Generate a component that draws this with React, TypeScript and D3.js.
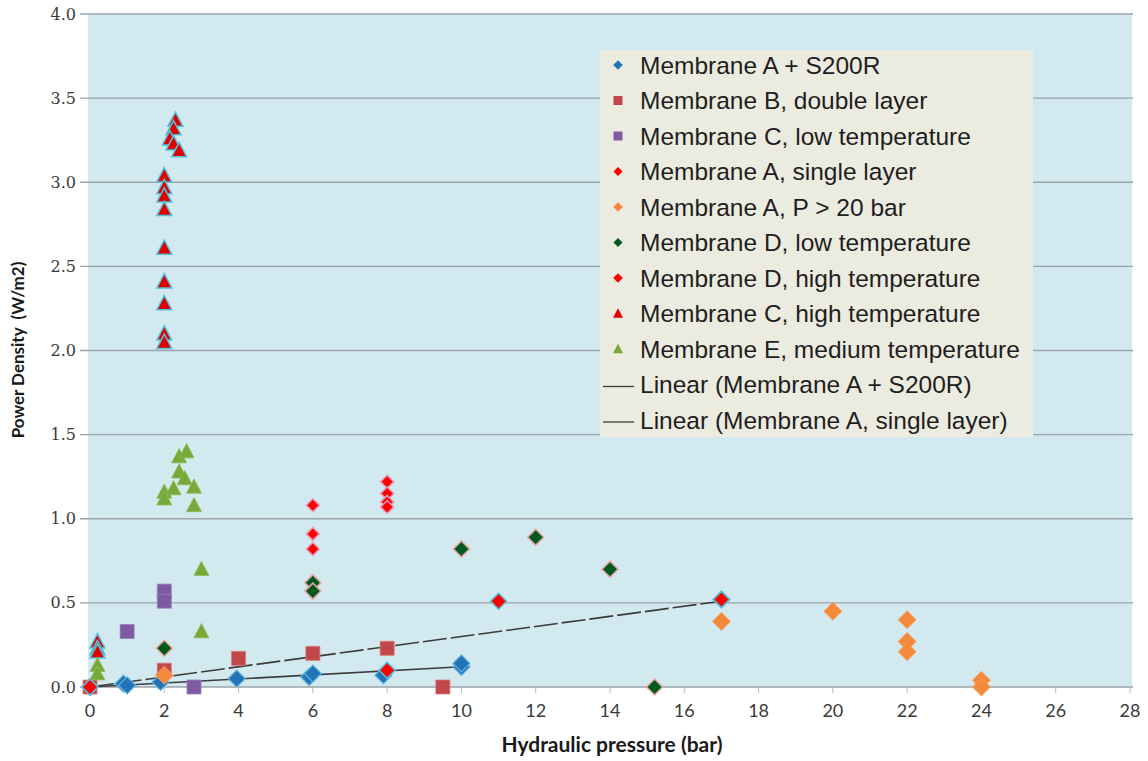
import React from 'react';
import * as d3 from 'd3';

// ---------- data ----------
const xTicks = [0, 2, 4, 6, 8, 10, 12, 14, 16, 18, 20, 22, 24, 26, 28];
const yTicks = [0, 0.5, 1.0, 1.5, 2.0, 2.5, 3.0, 3.5, 4.0];

const legendLabels = [
  'Membrane A + S200R',
  'Membrane B, double layer',
  'Membrane C, low temperature',
  'Membrane A, single layer',
  'Membrane A, P > 20 bar',
  'Membrane D, low temperature',
  'Membrane D, high temperature',
  'Membrane C, high temperature',
  'Membrane E, medium temperature',
  'Linear (Membrane A + S200R)',
  'Linear (Membrane A, single layer)',
];

const aS200rX = [0, 0.9, 1.0, 1.9, 3.95, 5.9, 6.0, 7.9, 10.0, 10.0, 17.0];
const aS200rY = [0.0, 0.02, 0.01, 0.03, 0.05, 0.06, 0.08, 0.07, 0.12, 0.14, 0.52];

const bDoubleX = [0, 2.0, 4.0, 6.0, 8.0, 9.5];
const bDoubleY = [0.0, 0.10, 0.17, 0.20, 0.23, 0.0];

const cLowX = [1.0, 2.0, 2.0, 2.8];
const cLowY = [0.33, 0.57, 0.51, 0.0];

const aSingleX = [0, 8.0, 11.0, 17.0];
const aSingleY = [0.0, 0.10, 0.51, 0.52];

const aP20X = [2.0, 17.0, 20.0, 22.0, 22.0, 22.0, 24.0, 24.0];
const aP20Y = [0.07, 0.39, 0.45, 0.40, 0.27, 0.21, 0.04, 0.0];

const dLowX = [2.0, 6.0, 6.0, 10.0, 12.0, 14.0, 15.2];
const dLowY = [0.23, 0.62, 0.57, 0.82, 0.89, 0.70, 0.0];

const dHighX = [6.0, 6.0, 6.0, 8.0, 8.0, 8.0, 8.0];
const dHighY = [1.08, 0.91, 0.82, 1.22, 1.15, 1.10, 1.07];

const cHighX = [0.2, 0.2, 0.2, 2.0, 2.0, 2.0, 2.0, 2.0, 2.0, 2.0, 2.0, 2.0, 2.3, 2.25, 2.15, 2.25, 2.4];
const cHighY = [0.27, 0.23, 0.21, 3.04, 2.97, 2.92, 2.84, 2.61, 2.41, 2.28, 2.10, 2.05, 3.37, 3.32, 3.26, 3.23, 3.19];

const eMedX = [0.2, 0.2, 2.0, 2.0, 2.25, 2.4, 2.4, 2.6, 2.55, 2.8, 2.8, 3.0, 3.0];
const eMedY = [0.13, 0.08, 1.16, 1.12, 1.18, 1.37, 1.28, 1.40, 1.24, 1.19, 1.08, 0.70, 0.33];

const trendS200rX = [0, 17];
const trendS200rY = [0.0, 0.51];
const trendSingleX = [0, 10];
const trendSingleY = [0.0, 0.12];

// ---------- shapes ----------
type Shape = 'diamond' | 'square' | 'triangle';
const shapePath = (shape: Shape, r: number) => {
  if (shape === 'diamond') return `M0,${-r}L${r},0L0,${r}L${-r},0Z`;
  if (shape === 'square') return `M${-r},${-r}H${r}V${r}H${-r}Z`;
  return `M0,${-r * 1.05}L${r},${r * 0.85}L${-r},${r * 0.85}Z`;
};

export default function App() {
  const W = 1148;
  const H = 761;
  const left = 90, right = 1130, top = 14, bottom = 687;
  const x = d3.scaleLinear().domain([0, 28]).range([left, right]);
  const y = d3.scaleLinear().domain([0, 4]).range([bottom, top]);

  const series = [
    { xs: aS200rX, ys: aS200rY, shape: 'diamond' as Shape, r: 8.5, fill: '#2473b6', stroke: '#5cb6df', sw: 1.2, lr: 4.8 },
    { xs: bDoubleX, ys: bDoubleY, shape: 'square' as Shape, r: 7, fill: '#c0474a', stroke: '#d9777a', sw: 0.8, lr: 4.5 },
    { xs: cLowX, ys: cLowY, shape: 'square' as Shape, r: 7, fill: '#7f5aa2', stroke: '#9b7fbb', sw: 0.8, lr: 4.5 },
    { xs: aSingleX, ys: aSingleY, shape: 'diamond' as Shape, r: 8, fill: '#ff0000', stroke: '#4fc3dc', sw: 1.5, lr: 4.5 },
    { xs: aP20X, ys: aP20Y, shape: 'diamond' as Shape, r: 9, fill: '#f5893a', stroke: '#f6a162', sw: 0.8, lr: 4.8 },
    { xs: dLowX, ys: dLowY, shape: 'diamond' as Shape, r: 8, fill: '#005a1e', stroke: '#e8a3a0', sw: 1.5, lr: 4.5 },
    { xs: dHighX, ys: dHighY, shape: 'diamond' as Shape, r: 6.5, fill: '#ff0000', stroke: '#e59ab8', sw: 1.5, lr: 4.8 },
    { xs: cHighX, ys: cHighY, shape: 'triangle' as Shape, r: 7.5, fill: '#e00000', stroke: '#4fc3dc', sw: 1.5, lr: 5 },
    { xs: eMedX, ys: eMedY, shape: 'triangle' as Shape, r: 7.5, fill: '#76a83a', stroke: '#8cbb50', sw: 0.8, lr: 5 },
  ];

  const line = d3.line<[number, number]>().x(d => x(d[0])).y(d => y(d[1]));
  const trend1 = line(trendS200rX.map((v, i) => [v, trendS200rY[i]] as [number, number])) || '';
  const trend2 = line(trendSingleX.map((v, i) => [v, trendSingleY[i]] as [number, number])) || '';

  const legX = 600, legY = 50, legW = 433, legH = 387;
  const rowY = (i: number) => 65 + i * 35.5;

  return (
    <svg width={W} height={H} style={{ position: 'absolute', left: 0, top: 0, background: '#fff' }}>
      <rect x={left - 2} y={top} width={right - left + 4} height={bottom - top} fill="#d3e9f0" />
      {yTicks.map(t => (
        <g key={'y' + t}>
          <line x1={80} x2={right + 3} y1={y(t)} y2={y(t)} stroke="#9aa5aa" strokeWidth={1.4} />
          <text x={76} y={y(t)} dy="0.35em" textAnchor="end" fontFamily="'DejaVu Serif', serif" fontSize={16} fill="#3a3a3a">
            {t.toFixed(1)}
          </text>
        </g>
      ))}
      {xTicks.map(t => (
        <g key={'x' + t}>
          <line x1={x(t)} x2={x(t)} y1={bottom} y2={bottom + 6} stroke="#b5bcc0" strokeWidth={1} />
          <text x={x(t)} y={bottom + 30} textAnchor="middle" fontFamily="Lato, 'Liberation Sans', sans-serif" fontSize={18} fill="#3a3a3a">
            {t}
          </text>
        </g>
      ))}
      <text x={612} y={752} textAnchor="middle" fontFamily="Lato, 'Liberation Sans', sans-serif" fontWeight="bold" fontSize={21} fill="#1a1a1a">
        Hydraulic pressure (bar)
      </text>
      <text transform="translate(24,350) rotate(-90)" textAnchor="middle" fontFamily="Lato, 'Liberation Sans', sans-serif" fontWeight="bold" fontSize={17} fill="#1a1a1a" style={{ whiteSpace: 'pre' }}>
        {'Power Density  (W/m2)'}
      </text>

      <path d={trend1} stroke="#3b3b3b" strokeWidth={1.6} fill="none" strokeDasharray="24,4" />
      <path d={trend2} stroke="#3b3b3b" strokeWidth={1.6} fill="none" />

      {series.map((s, si) => (
        <g key={'s' + si}>
          {s.xs.map((xv, i) => (
            <path key={i} d={shapePath(s.shape, s.r)} transform={`translate(${x(xv)},${y(s.ys[i])})`} fill={s.fill} stroke={s.stroke} strokeWidth={s.sw} />
          ))}
        </g>
      ))}

      <rect x={legX} y={legY} width={legW} height={legH} fill="#ecebe0" />
      {legendLabels.map((lab, i) => (
        <g key={'l' + i}>
          {i < series.length ? (
            <path d={shapePath(series[i].shape, series[i].lr)} transform={`translate(618,${rowY(i)})`} fill={series[i].fill} />
          ) : (
            <line x1={603} x2={634} y1={rowY(i) + 2} y2={rowY(i) + 2} stroke="#3b3b3b" strokeWidth={1.3} />
          )}
          <text x={640} y={rowY(i)} dy="0.36em" fontFamily="'Liberation Sans', Arial, sans-serif" fontSize={24.5} fill="#1e1e1e" style={{ whiteSpace: 'pre' }}>
            {lab}
          </text>
        </g>
      ))}
    </svg>
  );
}
